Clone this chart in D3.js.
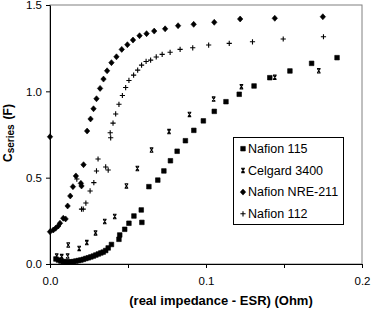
<!DOCTYPE html>
<html>
<head>
<meta charset="utf-8">
<script src="https://cdn.jsdelivr.net/npm/d3@7"></script>
<style>
  body { margin: 0; background: #fff; }
  svg { display: block; font-family: "Liberation Sans", Arial, sans-serif; }
</style>
</head>
<body>
<div id="chart"></div>
<script>
// series: [real impedance - ESR (Ohm), Cseries (F)]
const nafion115 = [
  [0.0038, 0.029], [0.0054, 0.023], [0.0070, 0.017], [0.0086, 0.014], [0.0102, 0.012],
  [0.0118, 0.012], [0.0134, 0.012], [0.0150, 0.014], [0.0166, 0.017], [0.0182, 0.020],
  [0.0198, 0.023], [0.0214, 0.027], [0.0230, 0.032], [0.0246, 0.036], [0.0262, 0.041],
  [0.0278, 0.046], [0.0294, 0.052], [0.0310, 0.058], [0.0326, 0.064], [0.0341, 0.069],
  [0.0357, 0.078], [0.0373, 0.093], [0.0394, 0.113], [0.0442, 0.143], [0.0447, 0.168],
  [0.0479, 0.201], [0.0506, 0.236], [0.0538, 0.278], [0.0585, 0.313], [0.0589, 0.241],
  [0.0634, 0.448], [0.0691, 0.486], [0.0730, 0.539], [0.0772, 0.598], [0.0815, 0.653],
  [0.0868, 0.714], [0.0922, 0.774], [0.0983, 0.829], [0.1053, 0.884], [0.1128, 0.940],
  [0.1213, 0.983], [0.1308, 1.031], [0.1409, 1.079], [0.1538, 1.118], [0.1677, 1.162],
  [0.1840, 1.195]
];
const celgard3400 = [
  [0.0043, 0.046], [0.0075, 0.043], [0.0113, 0.046], [0.0117, 0.110], [0.0187, 0.090],
  [0.0236, 0.124], [0.0292, 0.180], [0.0351, 0.246], [0.0415, 0.275], [0.0490, 0.452],
  [0.0560, 0.553], [0.0651, 0.660], [0.0763, 0.767], [0.0894, 0.866], [0.1049, 0.955],
  [0.1227, 1.027], [0.1441, 1.081], [0.1723, 1.119]
];
const nafionNRE211 = [
  [0.0000, 0.737], [0.0000, 0.187], [0.0021, 0.197], [0.0036, 0.207], [0.0053, 0.220],
  [0.0064, 0.236], [0.0085, 0.265], [0.0100, 0.261], [0.0113, 0.336], [0.0130, 0.394],
  [0.0147, 0.448], [0.0166, 0.510], [0.0198, 0.467], [0.0202, 0.452], [0.0215, 0.575],
  [0.0238, 0.770], [0.0260, 0.840], [0.0279, 0.899], [0.0298, 0.957], [0.0321, 1.017],
  [0.0343, 1.071], [0.0366, 1.119], [0.0394, 1.166], [0.0426, 1.200], [0.0460, 1.243],
  [0.0496, 1.270], [0.0532, 1.297], [0.0574, 1.322], [0.0619, 1.334], [0.0668, 1.349],
  [0.0738, 1.362], [0.0821, 1.380], [0.0921, 1.388], [0.1053, 1.400], [0.1219, 1.419],
  [0.1441, 1.423], [0.1749, 1.432]
];
const nafion112 = [
  [0.0172, 0.492], [0.0202, 0.318], [0.0213, 0.318], [0.0230, 0.353], [0.0257, 0.423],
  [0.0281, 0.471], [0.0298, 0.539], [0.0308, 0.608], [0.0357, 0.562], [0.0373, 0.544],
  [0.0386, 0.760], [0.0389, 0.731], [0.0404, 0.816], [0.0421, 0.869], [0.0442, 0.925],
  [0.0464, 0.976], [0.0485, 1.022], [0.0506, 1.063], [0.0536, 1.094], [0.0562, 1.123],
  [0.0587, 1.152], [0.0616, 1.173], [0.0645, 1.181], [0.0681, 1.199], [0.0719, 1.214],
  [0.0770, 1.226], [0.0834, 1.243], [0.0915, 1.252], [0.1017, 1.268], [0.1149, 1.278],
  [0.1298, 1.287], [0.1495, 1.303], [0.1753, 1.316]
];

const seriesNames = ['Nafion 115', 'Celgard 3400', 'Nafion NRE-211', 'Nafion 112'];
const xTicks = [0, 0.05, 0.1, 0.15, 0.2];
const xLabelTicks = [0, 0.1, 0.2];
const yTicks = [0, 0.5, 1.0, 1.5];

const width = 371;
const height = 314;
const margin = { top: 5, right: 9, bottom: 50, left: 50 };

// marker shapes, one per series
const markers = {
  'Nafion 115': 'M-2.3,-2.3H2.3V2.3H-2.3Z',
  'Celgard 3400': 'M-1.8,-2.2H1.8M-1.8,2.2H1.8M-1.4,-2L1.4,2M1.4,-2L-1.4,2',
  'Nafion NRE-211': 'M0,-3L2.7,0L0,3L-2.7,0Z',
  'Nafion 112': 'M-2.6,0H2.6M0,-2.6V2.6'
};
const filled = { 'Nafion 115': true, 'Celgard 3400': false, 'Nafion NRE-211': true, 'Nafion 112': false };

const svg = d3.select('#chart')
  .append('svg')
  .attr('width', width)
  .attr('height', height);

const xScale = d3.scaleLinear()
  .domain([0, 0.2])
  .range([margin.left, width - margin.right]);

const yScale = d3.scaleLinear()
  .domain([0, 1.5])
  .range([height - margin.bottom, margin.top]);

// plot area border (grey, like the spreadsheet default)
svg.append('rect')
  .attr('x', xScale(0))
  .attr('y', yScale(1.5))
  .attr('width', xScale(0.2) - xScale(0))
  .attr('height', yScale(0) - yScale(1.5))
  .attr('fill', 'none')
  .attr('stroke', '#808080')
  .attr('stroke-width', 1);

// x axis
const xAxis = svg.append('g')
  .attr('transform', `translate(0, ${yScale(0)})`)
  .call(d3.axisBottom(xScale)
    .tickValues(xTicks)
    .tickSize(4)
    .tickSizeOuter(0)
    .tickPadding(9)
    .tickFormat(d => xLabelTicks.some(v => Math.abs(v - d) < 1e-9) ? d3.format('.1f')(d) : ''));

// y axis
const yAxis = svg.append('g')
  .attr('transform', `translate(${xScale(0)}, 0)`)
  .call(d3.axisLeft(yScale)
    .tickValues(yTicks)
    .tickSize(4)
    .tickSizeOuter(0)
    .tickPadding(4)
    .tickFormat(d3.format('.1f')));

[xAxis, yAxis].forEach(ax => {
  ax.select('.domain').attr('stroke', '#000');
  ax.selectAll('line').attr('stroke', '#000');
  ax.selectAll('text')
    .attr('fill', '#000')
    .style('font-family', '"Liberation Sans", Arial, sans-serif')
    .style('font-size', '11.5px');
});

// points
const allSeries = [
  { name: 'Nafion 115', data: nafion115 },
  { name: 'Celgard 3400', data: celgard3400 },
  { name: 'Nafion NRE-211', data: nafionNRE211 },
  { name: 'Nafion 112', data: nafion112 }
];

const pointsG = svg.append('g');
allSeries.forEach(s => {
  pointsG.append('g')
    .selectAll('path')
    .data(s.data)
    .enter()
    .append('path')
      .attr('transform', d => `translate(${xScale(d[0])}, ${yScale(d[1])})`)
      .attr('d', markers[s.name])
      .attr('fill', filled[s.name] ? '#000' : 'none')
      .attr('stroke', '#000')
      .attr('stroke-width', filled[s.name] ? 0.6 : 1.1);
});

// legend
const legend = svg.append('g');
legend.append('rect')
  .attr('x', 233.5)
  .attr('y', 137.5)
  .attr('width', 110)
  .attr('height', 87)
  .attr('fill', '#fff')
  .attr('stroke', '#000')
  .attr('stroke-width', 1);

seriesNames.forEach((name, i) => {
  const y = 148.7 + i * 21.7;
  legend.append('path')
    .attr('transform', `translate(243, ${y})`)
    .attr('d', markers[name])
    .attr('fill', filled[name] ? '#000' : 'none')
    .attr('stroke', '#000')
    .attr('stroke-width', filled[name] ? 0.6 : 1.1);
  legend.append('text')
    .attr('x', 248)
    .attr('y', y)
    .attr('dy', '0.35em')
    .style('font-size', '12.5px')
    .text(name);
});

// axis titles
svg.append('text')
  .attr('x', 221)
  .attr('y', 305)
  .attr('text-anchor', 'middle')
  .style('font-size', '13px')
  .style('font-weight', 'bold')
  .text('(real impedance - ESR) (Ohm)');

const yTitle = svg.append('text')
  .attr('transform', 'translate(12, 133) rotate(-90)')
  .attr('text-anchor', 'middle')
  .style('font-size', '12px')
  .style('font-weight', 'bold');
yTitle.append('tspan').text('C');
yTitle.append('tspan').attr('dy', 2).style('font-size', '10px').text('series');
yTitle.append('tspan').attr('dy', -2).attr('dx', 5).text('(F)');
</script>
</body>
</html>
